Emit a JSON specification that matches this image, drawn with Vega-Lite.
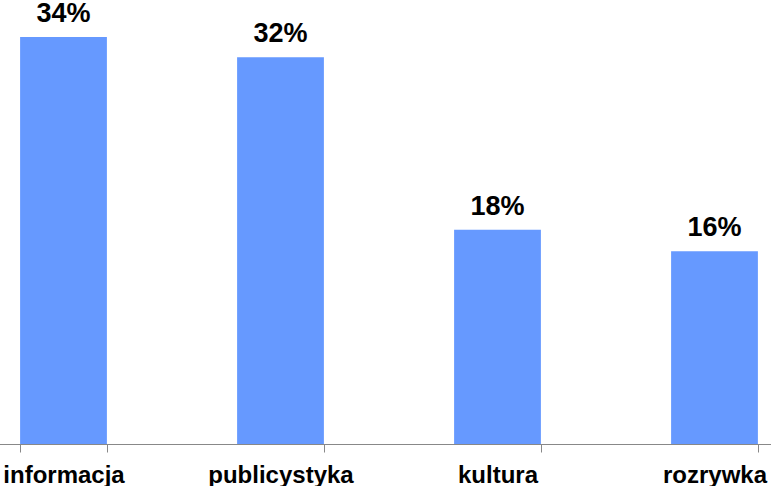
{
  "$schema": "https://vega.github.io/schema/vega-lite/v6.json",
  "autosize": "none",
  "width": 771,
  "height": 444,
  "padding": {"left": 0, "top": 0, "right": 0, "bottom": 42},
  "background": "white",
  "config": {"view": {"stroke": null}, "font": "Liberation Sans"},
  "data": {
    "values": [
      {"kategoria": "informacja", "wartosc": 34.0, "etykieta": "34%"},
      {"kategoria": "publicystyka", "wartosc": 32.3, "etykieta": "32%"},
      {"kategoria": "kultura", "wartosc": 17.9, "etykieta": "18%"},
      {"kategoria": "rozrywka", "wartosc": 16.1, "etykieta": "16%"}
    ]
  },
  "encoding": {
    "x": {
      "field": "kategoria",
      "type": "nominal",
      "sort": null,
      "scale": {"range": [-45, 823], "paddingInner": 0.6, "paddingOuter": 0.3},
      "axis": {
        "title": null,
        "labelAngle": 0,
        "labelFont": "Liberation Sans",
        "labelFontSize": 24,
        "labelFontWeight": "bold",
        "labelColor": "black",
        "labelBaseline": "alphabetic",
        "labelPadding": 30,
        "tickSize": 8,
        "tickBand": "extent",
        "domainColor": "#888888",
        "tickColor": "#888888",
        "labelBound": false,
        "labelOverlap": false
      }
    },
    "y": {
      "field": "wartosc",
      "type": "quantitative",
      "scale": {"domain": [0, 37.09], "nice": false, "zero": true},
      "axis": null
    }
  },
  "layer": [
    {"mark": {"type": "bar", "color": "#6699FF"}},
    {
      "mark": {
        "type": "text",
        "font": "Liberation Sans",
        "fontSize": 27,
        "fontWeight": "bold",
        "color": "black",
        "baseline": "alphabetic",
        "dy": -15
      },
      "encoding": {"text": {"field": "etykieta"}}
    }
  ]
}
